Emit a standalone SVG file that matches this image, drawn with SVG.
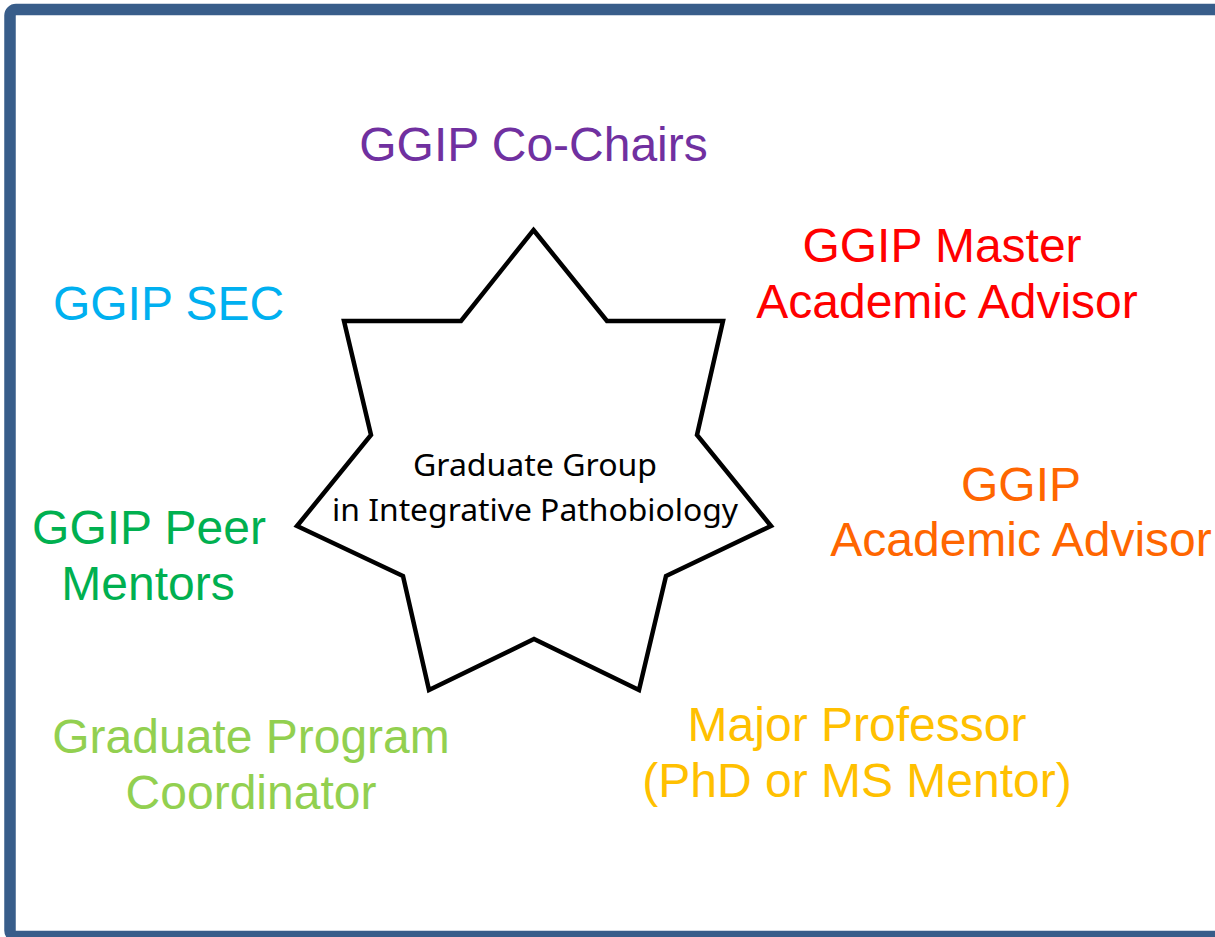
<svg xmlns="http://www.w3.org/2000/svg" width="1215" height="937" viewBox="0 0 1215 937">
<style>
.lbl{font-family:"Liberation Sans",Arial,sans-serif;font-size:48px;text-anchor:middle}
.ctr{font-family:"Noto Sans","Open Sans",sans-serif;font-size:30px;text-anchor:middle;fill:#000}
</style>
<rect x="0" y="0" width="1215" height="937" fill="#fff"/>
<rect id="frame" x="10" y="9.5" width="1225" height="927" rx="6" fill="none" stroke="#385D8A" stroke-width="11.5"/>
<g id="star">
<polygon points="533.5,230 607,321 723,321 697,435 771,526 666,576 639,690 534,639 429,690 403,576 297,526 371,435 344,321 461,321" fill="#fff" stroke="#000" stroke-width="4.5" stroke-linejoin="miter"/>
<text class="ctr" x="535" y="476" textLength="244" lengthAdjust="spacingAndGlyphs">Graduate Group</text>
<text class="ctr" x="535" y="521" textLength="406" lengthAdjust="spacingAndGlyphs">in Integrative Pathobiology</text>
</g>
<g id="connectors"></g>
<g id="cochairs"><text class="lbl" x="533.5" y="161" fill="#7030A0">GGIP Co-Chairs</text></g>
<g id="sec"><text class="lbl" x="168.5" y="320" fill="#00B0F0">GGIP SEC</text></g>
<g id="master"><text class="lbl" fill="#FF0000"><tspan x="942" y="262">GGIP Master</tspan><tspan x="947" y="318">Academic Advisor</tspan></text></g>
<g id="advisor"><text class="lbl" fill="#FF6600"><tspan x="1021" y="501">GGIP</tspan><tspan x="1021" y="556">Academic Advisor</tspan></text></g>
<g id="peer"><text class="lbl" fill="#00B050"><tspan x="149" y="544">GGIP Peer</tspan><tspan x="148" y="600">Mentors</tspan></text></g>
<g id="coordinator"><text class="lbl" fill="#92D050"><tspan x="251" y="753">Graduate Program</tspan><tspan x="251" y="809">Coordinator</tspan></text></g>
<g id="major"><text class="lbl" fill="#FFC000"><tspan x="857" y="741">Major Professor</tspan><tspan x="857" y="797">(PhD or MS Mentor)</tspan></text></g>
</svg>
